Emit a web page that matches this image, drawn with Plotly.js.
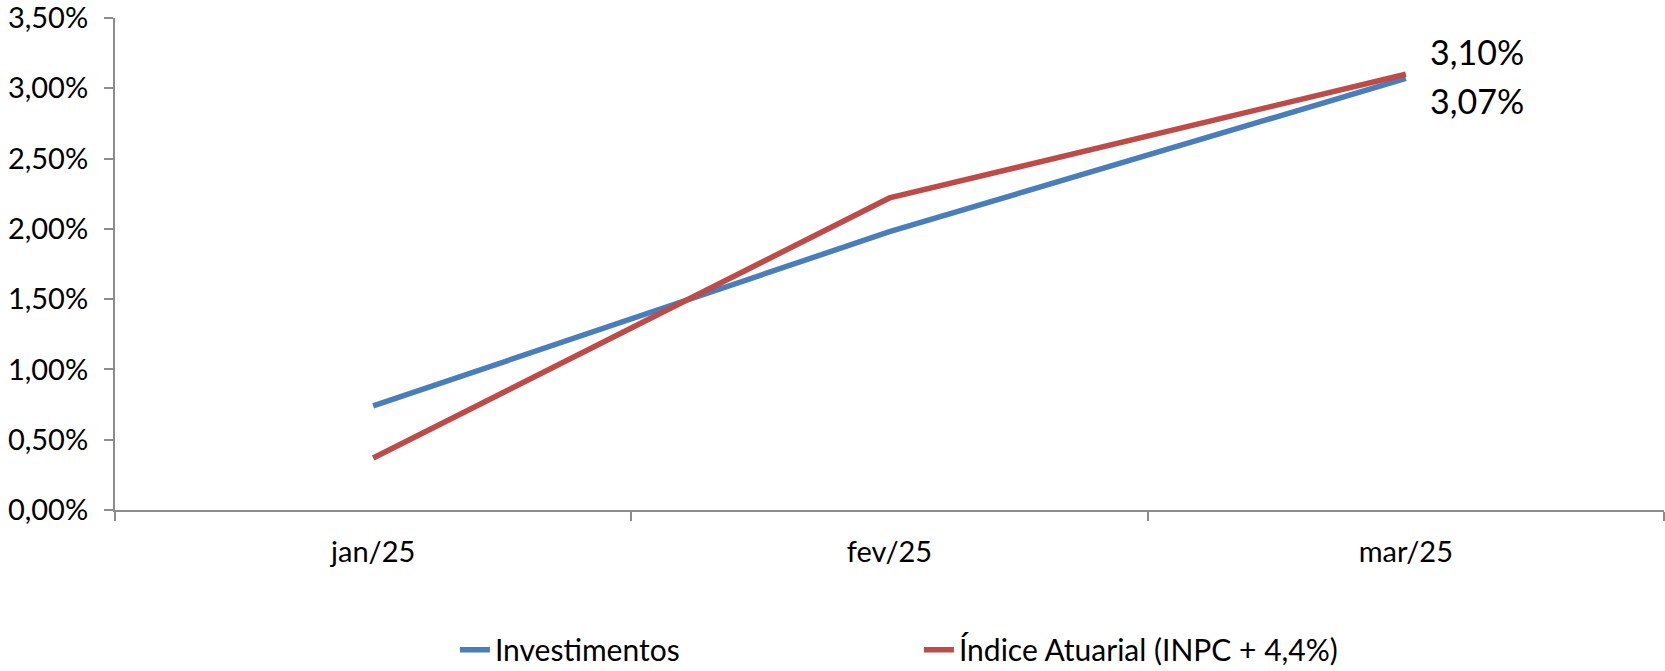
<!DOCTYPE html>
<html>
<head>
<meta charset="utf-8">
<script src="https://cdn.plot.ly/plotly-3.0.1.min.js"></script>
<style>html,body{margin:0;padding:0;background:#fff;}#chart{width:1665px;height:671px;}</style>
</head>
<body>
<div id="chart"></div>
<script>
const categories = ['jan/25', 'fev/25', 'mar/25'];
const investimentos = [0.74, 1.98, 3.07];
const indiceAtuarial = [0.37, 2.22, 3.10];
const seriesNames = ['Investimentos', 'Índice Atuarial (INPC + 4,4%)'];
const yTickVals = [0, 0.5, 1, 1.5, 2, 2.5, 3, 3.5];

const fmt = v => v.toFixed(2).replace('.', ',') + '%';

const FONT = 'Lato, "Open Sans", sans-serif';

const traces = [
  {
    x: categories, y: investimentos, name: seriesNames[0],
    type: 'scatter', mode: 'lines',
    line: {color: '#4a7ebb', width: 5.5}
  },
  {
    x: categories, y: indiceAtuarial, name: seriesNames[1],
    type: 'scatter', mode: 'lines',
    line: {color: '#be4b48', width: 5.5}
  }
];

const last = categories.length - 1;
const annotations = [
  {x: categories[last], y: indiceAtuarial[last], text: fmt(indiceAtuarial[last]), yshift: 23},
  {x: categories[last], y: investimentos[last], text: fmt(investimentos[last]), yshift: -22}
].map(a => Object.assign({
  xref: 'x', yref: 'y', showarrow: false, xanchor: 'left', yanchor: 'middle', xshift: 22,
  font: {family: FONT, size: 34, color: '#000'}
}, a));

const layout = {
  width: 1665, height: 671,
  margin: {l: 115, r: 1, t: 18, b: 161, autoexpand: false},
  paper_bgcolor: '#fff', plot_bgcolor: '#fff',
  font: {family: FONT, size: 28, color: '#000'},
  showlegend: true,
  annotations: annotations,
  legend: {
    orientation: 'h', x: 0.519, xanchor: 'center', y: -0.231, yanchor: 'top',
    font: {family: FONT, size: 30, color: '#000'},
    entrywidth: 419, entrywidthmode: 'pixels',
    itemwidth: 30
  },
  xaxis: {
    type: 'category', range: [-0.5, 2.5],
    showline: true, linecolor: '#8c8c8c', linewidth: 2,
    ticks: 'outside', tickson: 'boundaries', ticklen: 9, tickwidth: 2, tickcolor: '#8c8c8c',
    showgrid: false, zeroline: false,
    tickfont: {family: FONT, size: 29, color: '#000'},
    ticklabelstandoff: 15
  },
  yaxis: {
    range: [0, 3.5], tickvals: yTickVals,
    ticktext: yTickVals.map(fmt),
    showline: true, linecolor: '#8c8c8c', linewidth: 2,
    ticks: 'outside', ticklen: 9, tickwidth: 2, tickcolor: '#8c8c8c',
    showgrid: false, zeroline: false,
    tickfont: {family: FONT, size: 29, color: '#000'},
    ticklabelstandoff: 10,
    ticklabeloverflow: 'allow'
  }
};

Plotly.newPlot('chart', traces, layout, {displayModeBar: false, staticPlot: true});
</script>
</body>
</html>
